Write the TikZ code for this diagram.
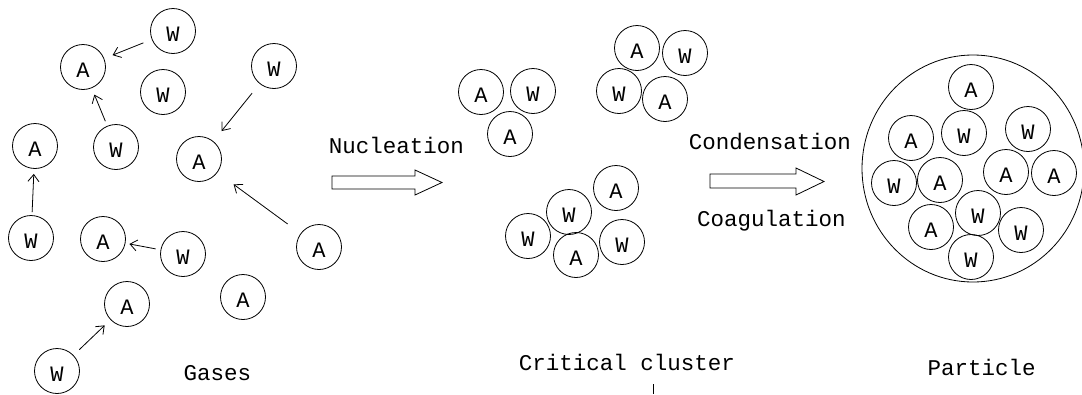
\documentclass[tikz,border=0pt]{standalone}
\usepackage{fontspec}
\setmainfont{Liberation Mono}
\usetikzlibrary{arrows.meta}
\tikzset{
  mol/.style={circle,draw,line width=0.8pt,minimum size=45pt,inner sep=0pt,
    font=\fontsize{22pt}{24pt}\selectfont,text height=20pt,text depth=0pt},
  lbl/.style={anchor=base,inner sep=0pt,font=\fontsize{22.5pt}{26pt}\selectfont},
  mv/.style={line width=0.8pt,-{Straight Barb[length=7pt,width=11pt,line width=0.8pt]}},
  blockarrow/.style={draw,line width=0.8pt,fill=white,line join=miter}
}
\begin{document}
\begin{tikzpicture}[x=1pt,y=-1pt]
\useasboundingbox (0,0) rectangle (1082,394);
% gases
\foreach \n/\t/\px/\py in {g1/W/173/31,g2/A/83/67,g3/W/163/92,g4/W/274/66,
  g5/A/35/146,g6/W/116/147,g7/A/199/159,g8/W/31/238,g9/A/103/239,
  g10/W/183/254,g11/A/319/247,g12/A/127/304,g13/A/243/297,g14/W/57/371}
  \node[mol] (\n) at (\px,\py) {\t};
\draw[mv,shorten <=9pt,shorten >=9pt] (g1) -- (g2);
\draw[mv,shorten <=5pt,shorten >=7pt] (g6) -- (g2);
\draw[mv,shorten <=12pt,shorten >=13pt] (g4) -- (g7);
\draw[mv,shorten <=3pt,shorten >=5pt] (g8) -- (g5);
\draw[mv,shorten <=5pt,shorten >=4pt] (g10) -- (g9);
\draw[mv,shorten <=16pt,shorten >=20pt] (g11) -- (g7);
\draw[mv,shorten <=8pt,shorten >=8pt] (g14) -- (g12);
% clusters
\foreach \n/\t/\px/\py in {c1/A/481/92,c2/W/533/91,c3/A/510/134,
  c4/A/637/48,c5/W/685/53,c6/W/619/91,c7/A/665/99,
  c8/A/616/188,c9/W/569/212,c10/W/528/236,c11/A/576/255,c12/W/622/242}
  \node[mol] (\n) at (\px,\py) {\t};
% particle
\draw[line width=0.8pt] (973,168.5) ellipse [x radius=111,y radius=113.5];
\foreach \n/\t/\px/\py in {p1/A/971/87,p2/W/964/133,p3/A/911/138,p4/W/1028/129,
  p5/W/894/183,p6/A/940/180,p7/A/1006/172,p8/A/1054/173,p9/W/978/213,
  p10/A/931/227,p11/W/1021/230,p12/W/971/257}
  \node[mol] (\n) at (\px,\py) {\t};
% block arrows
\draw[blockarrow] (332,176) -- (415,176) -- (415,170) -- (442,182.5) -- (415,195) -- (415,189) -- (332,189) -- cycle;
\draw[blockarrow] (710,174) -- (796,174) -- (796,168) -- (824,181.5) -- (796,195) -- (796,188) -- (710,188) -- cycle;
% labels
\node[lbl] (tnuc) at (396.5,153) {Nucleation};
\node[lbl] (tcond) at (770,149) {Condensation};
\node[lbl] (tcoag) at (771.5,226) {Coagulation};
\node[lbl] (tgas) at (217.5,380) {Gases};
\node[lbl] (tcrit) at (627,370) {Critical cluster};
\node[lbl] (tpart) at (981.5,375) {Particle};
% small tick
\draw[line width=0.8pt] (653,384) -- (653,394);
\end{tikzpicture}
\end{document}
